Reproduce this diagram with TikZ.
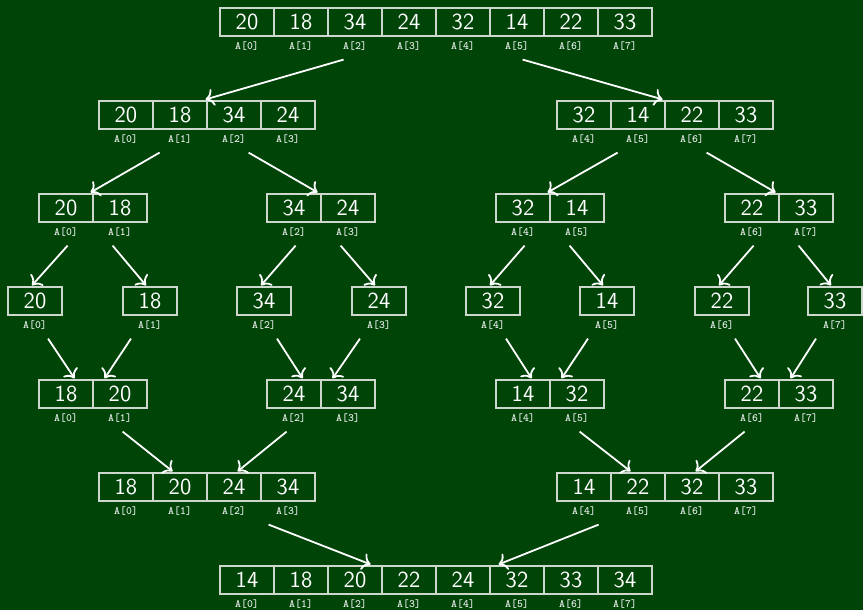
\documentclass[tikz,border=0pt]{standalone}
\usetikzlibrary{arrows.meta, calc}

\definecolor{board}{RGB}{0,68,8}
\definecolor{cellline}{RGB}{205,215,205}

% one array row: name, left x, top y, first index, values
\newcommand{\cellarray}[5]{%
  \foreach \v [count=\k from 0] in {#5} {
    \pgfmathtruncatemacro{\ix}{#4+\k}
    \node[cell] (#1-\k) at ({#2+27+54*\k}, {#3+14}) {\v};
    \node[idx] (#1-\k-i) at ({#2+27+54*\k}, {#3+38}) {A[\ix]};
  }}

\begin{document}
\begin{tikzpicture}[
    x=0.5pt, y=-0.5pt,
    % cells and index labels
    cell/.style={draw=cellline, line width=0.6pt, minimum width=27pt, minimum height=14pt,
      inner sep=0pt, text=white, font=\fontsize{11.5}{13}\selectfont\sffamily},
    idx/.style={inner sep=0pt, text=white!90!board, font=\fontsize{5.6}{6}\selectfont\ttfamily\bfseries},
    % split / merge arrows
    arr/.style={draw=white, line width=0.9pt, -{To[scale=1.15]}}
]
\fill[board] (0,0) rectangle (863,610);
\useasboundingbox (0,0) rectangle (863,610);

% ===============================
% Split phase
% ===============================
\cellarray{s0}{220}{8}{0}{20,18,34,24,32,14,22,33}
\cellarray{s1a}{99}{101}{0}{20,18,34,24}
\cellarray{s1b}{557}{101}{4}{32,14,22,33}
\cellarray{s2a}{39}{194}{0}{20,18}
\cellarray{s2b}{267}{194}{2}{34,24}
\cellarray{s2c}{496}{194}{4}{32,14}
\cellarray{s2d}{725}{194}{6}{22,33}

% single elements
\cellarray{s3a}{8}{287}{0}{20}
\cellarray{s3b}{123}{287}{1}{18}
\cellarray{s3c}{237}{287}{2}{34}
\cellarray{s3d}{352}{287}{3}{24}
\cellarray{s3e}{466}{287}{4}{32}
\cellarray{s3f}{580}{287}{5}{14}
\cellarray{s3g}{695}{287}{6}{22}
\cellarray{s3h}{808}{287}{7}{33}

% ===============================
% Merge phase
% ===============================
\cellarray{m2a}{39}{380}{0}{18,20}
\cellarray{m2b}{267}{380}{2}{24,34}
\cellarray{m2c}{496}{380}{4}{14,32}
\cellarray{m2d}{725}{380}{6}{22,33}
\cellarray{m1a}{99}{473}{0}{18,20,24,34}
\cellarray{m1b}{557}{473}{4}{14,22,32,33}
\cellarray{m0}{220}{566}{0}{14,18,20,22,24,32,33,34}

% Split arrows
\draw[arr] ($(s0-3.south east)+(-93,23)$) -- ($(s1a-1.north east)+(-2,-1)$);
\draw[arr] ($(s0-3.south east)+(86,23)$) -- ($(s1b-1.north east)+(-3,-1)$);
\foreach \p/\l/\r in {s1a/s2a/s2b, s1b/s2c/s2d} {
  \draw[arr] ($(\p-1.south east)+(-48,23)$) -- ($(\l-0.north east)+(-3,-1)$);
  \draw[arr] ($(\p-1.south east)+(41,23)$) -- ($(\r-0.north east)+(-4,-1)$);
}
\foreach \p/\l/\r in {s2a/s3a/s3b, s2b/s3c/s3d, s2c/s3e/s3f, s2d/s3g/s3h} {
  \draw[arr] ($(\p-0.south east)+(-26,23)$) -- ($(\l-0.north)+(-3,-1)$);
  \draw[arr] ($(\p-0.south east)+(19,23)$) -- ($(\r-0.north)+(-4,-1)$);
}

% Merge arrows
\foreach \l/\r/\c in {s3a/s3b/m2a, s3c/s3d/m2b, s3e/s3f/m2c, s3g/s3h/m2d} {
  \draw[arr] ($(\l-0.south)+(13,23)$) -- ($(\c-0.north east)+(-19,-1)$);
  \draw[arr] ($(\r-0.south)+(-19,23)$) -- ($(\c-0.north east)+(11,-1)$);
}
\foreach \l/\r/\c in {m2a/m2b/m1a, m2c/m2d/m1b} {
  \draw[arr] ($(\l-0.south east)+(29,23)$) -- ($(\c-1.north east)+(-35,-1)$);
  \draw[arr] ($(\r-0.south east)+(-35,23)$) -- ($(\c-1.north east)+(30,-1)$);
}
\draw[arr] ($(m1a-1.south east)+(61,23)$) -- ($(m0-3.north east)+(-66,-1)$);
\draw[arr] ($(m1b-1.south east)+(-67,23)$) -- ($(m0-3.north east)+(62,-1)$);

\end{tikzpicture}
\end{document}
